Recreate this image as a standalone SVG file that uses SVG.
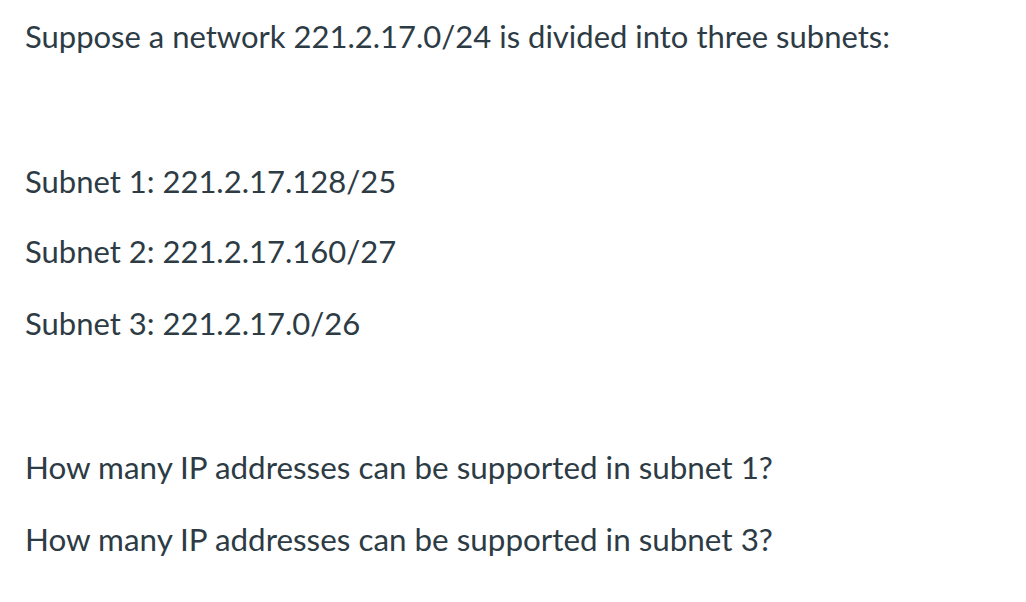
<svg xmlns="http://www.w3.org/2000/svg" width="1026" height="602" viewBox="0 0 1026 602">
<style>
text { font-family: Lato, "Liberation Sans", sans-serif; font-size: 31px; fill: #2d3b45; }
.q { font-size: 31.4px; }
</style>
<rect width="1026" height="602" fill="#ffffff"/>
<g id="question">
<text x="25" y="48">Suppose a network 221.2.17.0/24 is divided into three subnets:</text>
<text x="25" y="193">Subnet 1: 221.2.17.128/25</text>
<text x="25" y="263">Subnet 2: 221.2.17.160/27</text>
<text x="25" y="335">Subnet 3: 221.2.17.0/26</text>
<text class="q" x="25" y="479">How many IP addresses can be supported in subnet 1?</text>
<text class="q" x="25" y="551">How many IP addresses can be supported in subnet 3?</text>
</g>
</svg>
